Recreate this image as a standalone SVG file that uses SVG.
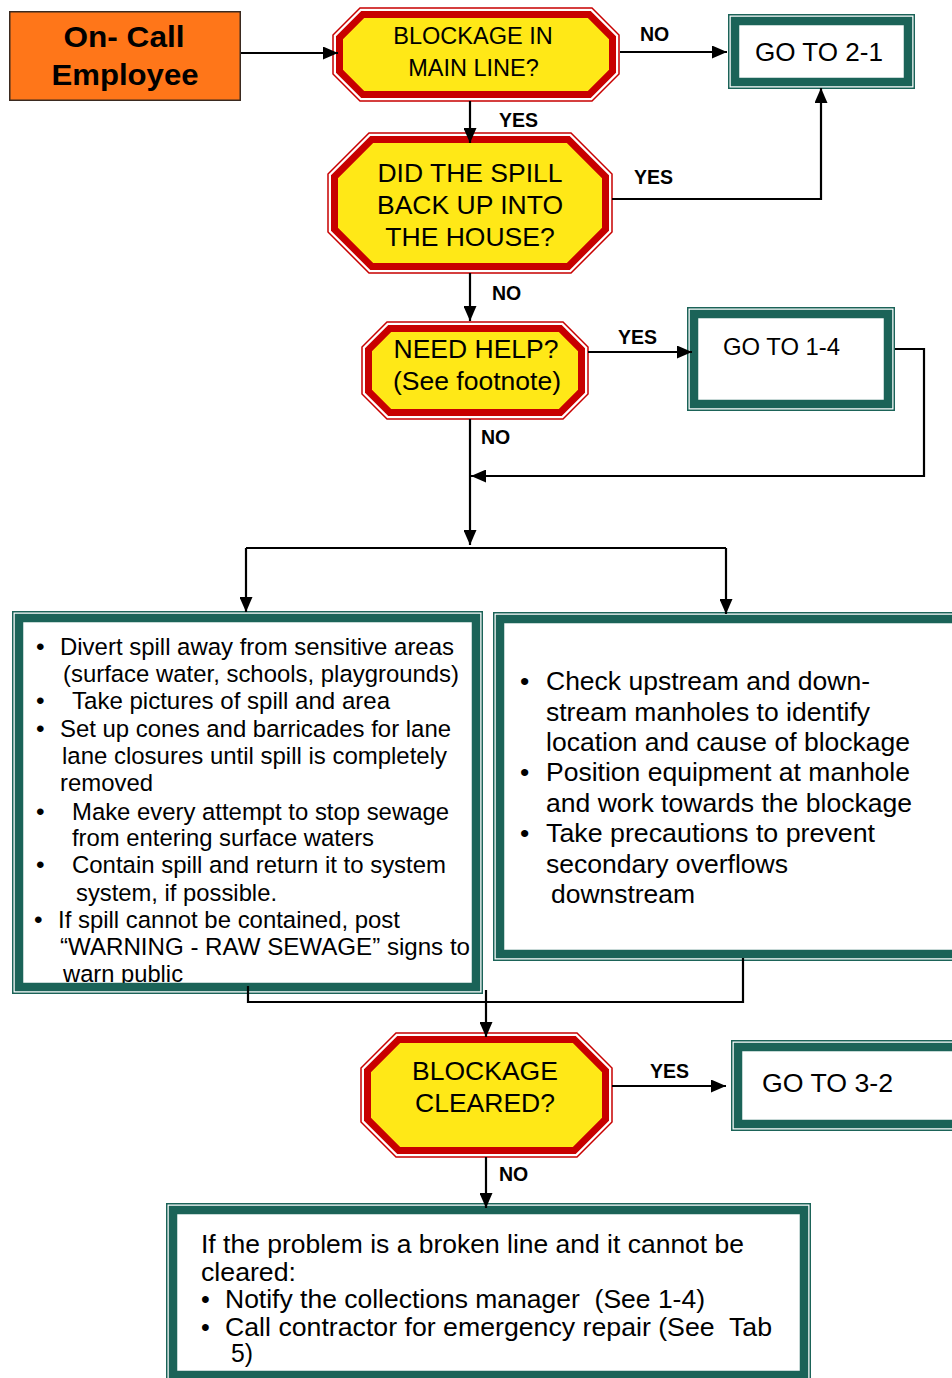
<svg xmlns="http://www.w3.org/2000/svg" width="952" height="1378" viewBox="0 0 952 1378">
  <style>
    .bg { fill: #ffffff; }
    .oct-outer { fill: #ffffff; stroke: #c80000; stroke-width: 1.5; }
    .oct-inner { fill: #ffe817; stroke: #c80000; stroke-width: 7; stroke-linejoin: miter; }
    .box-outer { fill: #ffffff; stroke: #1b6358; stroke-width: 1.5; }
    .box-band { fill: none; stroke: #1b6358; stroke-width: 8.5; }
    .start { fill: #ff7619; stroke: #3a2a20; stroke-width: 1.5; }
    .t { font-family: "Liberation Sans", Arial, sans-serif; fill: #000000; }
    .q { font-size: 26.5px; text-anchor: middle; }
    .q1 { font-size: 23.5px; text-anchor: middle; }
    .go { font-size: 26px; }
    .lbl { font-size: 19.5px; font-weight: bold; }
    .lb { font-size: 24.5px; }
    .rb { font-size: 26.5px; }
    .bb { font-size: 25px; white-space: pre; }
    .wire { fill: none; stroke: #000000; stroke-width: 2.2; }
    .wire-a { fill: none; stroke: #000000; stroke-width: 2.2; marker-end: url(#arrow); }
  </style>
  <defs>
    <marker id="arrow" markerUnits="userSpaceOnUse" markerWidth="15" markerHeight="13" refX="15" refY="6.5" orient="auto">
      <path d="M0,0 L15,6.5 L0,13 z" fill="#000000"/>
    </marker>
  </defs>

  <rect class="bg" x="0" y="0" width="952" height="1378"/>

  <!-- start node -->
  <g id="node-oncall">
    <rect class="start" x="9.75" y="11.75" width="230.5" height="88.5"/>
    <text class="t" x="124" y="47" font-size="30" font-weight="bold" text-anchor="middle" textLength="121" lengthAdjust="spacingAndGlyphs">On- Call</text>
    <text class="t" x="125" y="85" font-size="30" font-weight="bold" text-anchor="middle" textLength="147" lengthAdjust="spacingAndGlyphs">Employee</text>
  </g>

  <!-- decision: blockage in main line -->
  <g id="node-main-line">
    <polygon class="oct-outer" points="360,8 592,8 619,35 619,74 592,101 360,101 333,74 333,35"/>
    <polygon class="oct-inner" points="362.7,14.5 589.3,14.5 612.5,37.7 612.5,71.3 589.3,94.5 362.7,94.5 339.5,71.3 339.5,37.7"/>
    <text class="t q1" x="473" y="44">BLOCKAGE IN</text>
    <text class="t q1" x="473.5" y="76">MAIN LINE?</text>
  </g>

  <!-- decision: spill into house -->
  <g id="node-house">
    <polygon class="oct-outer" points="369,133 571,133 612,174 612,232 571,273 369,273 328,232 328,174"/>
    <polygon class="oct-inner" points="371.7,139.5 568.3,139.5 605.5,176.7 605.5,229.3 568.3,266.5 371.7,266.5 334.5,229.3 334.5,176.7"/>
    <text class="t q" x="470" y="182">DID THE SPILL</text>
    <text class="t q" x="470" y="214">BACK UP INTO</text>
    <text class="t q" x="470" y="246">THE HOUSE?</text>
  </g>

  <!-- decision: need help -->
  <g id="node-help">
    <polygon class="oct-outer" points="387,322 563,322 588,347 588,394 563,419 387,419 362,394 362,347"/>
    <polygon class="oct-inner" points="389.7,328.5 560.3,328.5 581.5,349.7 581.5,391.3 560.3,412.5 389.7,412.5 368.5,391.3 368.5,349.7"/>
    <text class="t q" x="476" y="358">NEED HELP?</text>
    <text class="t q" x="477" y="390">(See footnote)</text>
  </g>

  <!-- go to 2-1 -->
  <g id="node-goto-2-1">
    <rect class="box-outer" x="728.75" y="14.75" width="185.5" height="73.5"/>
    <rect class="box-band" x="735" y="21" width="173" height="61"/>
    <text class="t go" x="755" y="61" textLength="128" lengthAdjust="spacingAndGlyphs">GO TO 2-1</text>
  </g>

  <!-- go to 1-4 -->
  <g id="node-goto-1-4">
    <rect class="box-outer" x="687.75" y="307.75" width="206.5" height="102.5"/>
    <rect class="box-band" x="694" y="314" width="194" height="90"/>
    <text class="t" x="723" y="355" font-size="24" textLength="117" lengthAdjust="spacingAndGlyphs">GO TO 1-4</text>
  </g>

  <!-- spill handling actions -->
  <g id="node-spill-actions">
    <rect class="box-outer" x="12.75" y="611.75" width="469.5" height="381.5"/>
    <text class="t lb" x="36" y="655">•</text>
    <text class="t lb" x="60" y="655" textLength="394" lengthAdjust="spacingAndGlyphs">Divert spill away from sensitive areas</text>
    <text class="t lb" x="63" y="682" textLength="396" lengthAdjust="spacingAndGlyphs">(surface water, schools, playgrounds)</text>
    <text class="t lb" x="36" y="709">•</text>
    <text class="t lb" x="72" y="709" textLength="318" lengthAdjust="spacingAndGlyphs">Take pictures of spill and area</text>
    <text class="t lb" x="36" y="737">•</text>
    <text class="t lb" x="60" y="737" textLength="391" lengthAdjust="spacingAndGlyphs">Set up cones and barricades for lane</text>
    <text class="t lb" x="62" y="764" textLength="385" lengthAdjust="spacingAndGlyphs">lane closures until spill is completely</text>
    <text class="t lb" x="60" y="791" textLength="93" lengthAdjust="spacingAndGlyphs">removed</text>
    <text class="t lb" x="36" y="820">•</text>
    <text class="t lb" x="72" y="820" textLength="377" lengthAdjust="spacingAndGlyphs">Make every attempt to stop sewage</text>
    <text class="t lb" x="72" y="846" textLength="302" lengthAdjust="spacingAndGlyphs">from entering surface waters</text>
    <text class="t lb" x="36" y="873">•</text>
    <text class="t lb" x="72" y="873" textLength="374" lengthAdjust="spacingAndGlyphs">Contain spill and return it to system</text>
    <text class="t lb" x="76" y="901" textLength="201" lengthAdjust="spacingAndGlyphs">system, if possible.</text>
    <text class="t lb" x="34" y="928">•</text>
    <text class="t lb" x="58" y="928" textLength="342" lengthAdjust="spacingAndGlyphs">If spill cannot be contained, post</text>
    <text class="t lb" x="60" y="955" textLength="410" lengthAdjust="spacingAndGlyphs">“WARNING - RAW SEWAGE” signs to</text>
    <text class="t lb" x="63" y="982" textLength="120" lengthAdjust="spacingAndGlyphs">warn public</text>
    <rect class="box-band" x="19" y="618" width="457" height="369"/>
  </g>

  <!-- blockage location actions -->
  <g id="node-blockage-actions">
    <rect class="box-outer" x="493.75" y="612.75" width="480" height="347.5"/>
    <rect class="box-band" x="500" y="619" width="470" height="335"/>
    <text class="t rb" x="520" y="690">•</text>
    <text class="t rb" x="546" y="690" textLength="324" lengthAdjust="spacingAndGlyphs">Check upstream and down-</text>
    <text class="t rb" x="546" y="721" textLength="324" lengthAdjust="spacingAndGlyphs">stream manholes to identify</text>
    <text class="t rb" x="546" y="751" textLength="364" lengthAdjust="spacingAndGlyphs">location and cause of blockage</text>
    <text class="t rb" x="520" y="781">•</text>
    <text class="t rb" x="546" y="781" textLength="364" lengthAdjust="spacingAndGlyphs">Position equipment at manhole</text>
    <text class="t rb" x="546" y="812" textLength="366" lengthAdjust="spacingAndGlyphs">and work towards the blockage</text>
    <text class="t rb" x="520" y="842">•</text>
    <text class="t rb" x="546" y="842" textLength="329" lengthAdjust="spacingAndGlyphs">Take precautions to prevent</text>
    <text class="t rb" x="546" y="873" textLength="242" lengthAdjust="spacingAndGlyphs">secondary overflows</text>
    <text class="t rb" x="551" y="903" textLength="144" lengthAdjust="spacingAndGlyphs">downstream</text>
  </g>

  <!-- decision: blockage cleared -->
  <g id="node-cleared">
    <polygon class="oct-outer" points="396,1033 577,1033 612,1068 612,1122 577,1157 396,1157 361,1122 361,1068"/>
    <polygon class="oct-inner" points="398.7,1039.5 574.3,1039.5 605.5,1070.7 605.5,1119.3 574.3,1150.5 398.7,1150.5 367.5,1119.3 367.5,1070.7"/>
    <text class="t q" x="485" y="1080">BLOCKAGE</text>
    <text class="t q" x="485" y="1112">CLEARED?</text>
  </g>

  <!-- go to 3-2 -->
  <g id="node-goto-3-2">
    <rect class="box-outer" x="731.75" y="1040.75" width="230" height="89.5"/>
    <rect class="box-band" x="738" y="1047" width="220" height="77"/>
    <text class="t go" x="762" y="1092" textLength="131" lengthAdjust="spacingAndGlyphs">GO TO 3-2</text>
  </g>

  <!-- broken line instructions -->
  <g id="node-broken-line">
    <rect class="box-outer" x="166.75" y="1203.75" width="643.5" height="180"/>
    <rect class="box-band" x="173" y="1210" width="631" height="165"/>
    <text class="t bb" x="201" y="1253" textLength="543" lengthAdjust="spacingAndGlyphs">If the problem is a broken line and it cannot be</text>
    <text class="t bb" x="201" y="1281" textLength="95" lengthAdjust="spacingAndGlyphs">cleared:</text>
    <text class="t bb" x="201" y="1308">•</text>
    <text class="t bb" x="225" y="1308" textLength="480" lengthAdjust="spacingAndGlyphs">Notify the collections manager  (See 1-4)</text>
    <text class="t bb" x="201" y="1336">•</text>
    <text class="t bb" x="225" y="1336" textLength="547" lengthAdjust="spacingAndGlyphs">Call contractor for emergency repair (See  Tab</text>
    <text class="t bb" x="231" y="1362" textLength="22" lengthAdjust="spacingAndGlyphs">5)</text>
  </g>

  <!-- connectors and their labels -->
  <g id="connectors">
    <path class="wire-a" d="M241,53 H338"/>
    <path class="wire-a" d="M470,101 V143"/>
    <path class="wire-a" d="M620,52 H727"/>
    <path class="wire-a" d="M612,199 H821 V88"/>
    <path class="wire-a" d="M470,273 V321"/>
    <path class="wire-a" d="M588,352 H692"/>
    <path class="wire-a" d="M895,349 H924 V476 H471"/>
    <path class="wire-a" d="M470,419 V545"/>
    <path class="wire" d="M246,548 H726"/>
    <path class="wire-a" d="M246,548 V612"/>
    <path class="wire-a" d="M726,548 V614"/>
    <path class="wire" d="M248,986 V1002 H743 V958"/>
    <path class="wire-a" d="M486,990 V1037"/>
    <path class="wire-a" d="M612,1086 H726"/>
    <path class="wire-a" d="M486,1157 V1208"/>

    <text class="t lbl" x="640" y="41">NO</text>
    <text class="t lbl" x="499" y="127">YES</text>
    <text class="t lbl" x="634" y="184">YES</text>
    <text class="t lbl" x="492" y="300">NO</text>
    <text class="t lbl" x="618" y="344">YES</text>
    <text class="t lbl" x="481" y="444">NO</text>
    <text class="t lbl" x="650" y="1078">YES</text>
    <text class="t lbl" x="499" y="1181">NO</text>
  </g>
</svg>
